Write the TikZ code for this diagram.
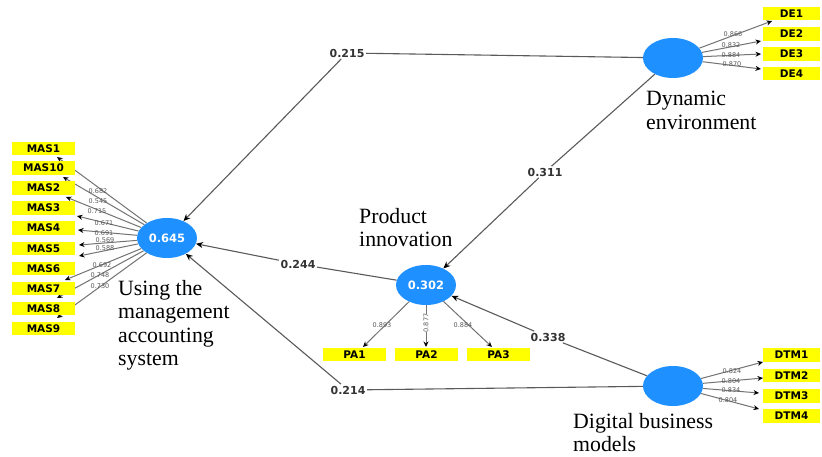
\documentclass[tikz,border=0pt]{standalone}
\usepackage{fontspec}
\setmainfont{Liberation Serif}
\newfontfamily\lblfont{DejaVu Sans}
\usetikzlibrary{arrows.meta,shapes.geometric}
\definecolor{lvblue}{RGB}{30,144,255}
\definecolor{indyel}{RGB}{255,255,0}
\definecolor{pathgray}{RGB}{90,90,90}
\definecolor{loadgray}{RGB}{115,115,115}
\begin{document}
\begin{tikzpicture}[x=1pt,y=-1pt,
 lv/.style={ellipse, fill=lvblue, minimum width=60pt, minimum height=40pt, inner sep=0pt, text=white, font=\lblfont\bfseries\fontsize{11.5}{12}\selectfont},
 ind/.style={fill=indyel, minimum width=63pt, minimum height=13.5pt, inner sep=0pt, font=\lblfont\bfseries\fontsize{10.5}{11}\selectfont},
 coef/.style={fill=white, inner sep=1.5pt, font=\lblfont\bfseries\fontsize{11}{12}\selectfont, text=black!80},
 load/.style={inner sep=0pt, font=\lblfont\fontsize{6.5}{7}\selectfont, text=black!65},
 pathln/.style={draw=pathgray, line width=1.1pt, -{Stealth[length=7pt,width=6pt,color=black]}},
 loadln/.style={draw=loadgray, line width=1pt, -{Stealth[length=5.5pt,width=5pt,color=black]}},
 lvtitle/.style={font=\fontsize{21.8}{23.5}\selectfont, align=left, anchor=north west, inner sep=0pt}
]
\useasboundingbox (0,0) rectangle (822,457);
\fill[white] (0,0) rectangle (822,457);

% latent variables
\node[lv] (MAS) at (167,238) {0.645};
\node[lv] (PI) at (426,285) {0.302};
\node[lv] (DE) at (673,58) {};
\node[lv] (DTM) at (673,386) {};

% titles
\node[lvtitle] (tDE) at (646,91) {Dynamic\\environment};
\node[lvtitle] (tPI) at (359,208) {Product\\innovation};
\node[lvtitle] (tMAS) at (118,280) {Using the\\management\\accounting\\system};
\node[lvtitle] (tDTM) at (573,413) {Digital business\\models};

% path coefficients
\node[coef] (c215) at (347,53) {0.215};
\node[coef] (c311) at (545,172) {0.311};
\node[coef] (c244) at (298,264) {0.244};
\node[coef] (c338) at (548,337) {0.338};
\node[coef] (c214) at (348,390) {0.214};

\draw[pathln] (DE) -- (c215) -- (MAS);
\draw[pathln] (DE) -- (c311) -- (PI);
\draw[pathln] (PI) -- (c244) -- (MAS);
\draw[pathln] (DTM) -- (c338) -- (PI);
\draw[pathln] (DTM) -- (c214) -- (MAS);

% arrow ends of the loadings
\coordinate (m1) at (57,157);
\coordinate (m10) at (63,177);
\coordinate (m2) at (66,197);
\coordinate (m3) at (77,216);
\coordinate (m4) at (78,230);
\coordinate (m5) at (79,245);
\coordinate (m6) at (79,256);
\coordinate (m7) at (65,280);
\coordinate (m8) at (57,298);
\coordinate (m9) at (57,318);
\foreach \t in {m1,m10,m2,m3,m4,m5,m6,m7,m8,m9} \draw[loadln] (MAS) -- (\t);

\coordinate (d1) at (772,21);
\coordinate (d2) at (761,41);
\coordinate (d3) at (761,54);
\coordinate (d4) at (761,69);
\foreach \t in {d1,d2,d3,d4} \draw[loadln] (DE) -- (\t);

\coordinate (g1) at (763,362);
\coordinate (g2) at (763,378);
\coordinate (g3) at (759,393);
\coordinate (g4) at (759,409);
\foreach \t in {g1,g2,g3,g4} \draw[loadln] (DTM) -- (\t);

\coordinate (p1) at (363,347);
\coordinate (p2) at (426,347);
\coordinate (p3) at (492,347);
\foreach \t in {p1,p2,p3} \draw[loadln] (PI) -- (\t);

% loading values
\node[load] at (98,191) {0.682};
\node[load] at (98,201) {0.545};
\node[load] at (97,211) {0.715};
\node[load] at (104,223) {0.671};
\node[load] at (104,233) {0.691};
\node[load] at (105,240) {0.569};
\node[load] at (105,248) {0.588};
\node[load] at (102,265) {0.692};
\node[load] at (100,275) {0.748};
\node[load] at (100,286) {0.730};

\node[load] at (733,34) {0.866};
\node[load] at (731,45) {0.832};
\node[load] at (731,55) {0.884};
\node[load] at (732,64) {0.870};

\node[load] at (732,371) {0.824};
\node[load] at (731,381) {0.804};
\node[load] at (731,390) {0.834};
\node[load] at (728,400) {0.804};

\node[load] at (382,325) {0.893};
\node[load, rotate=90, fill=white] at (426,323) {0.877};
\node[load] at (463,325) {0.884};

% indicators
\node[ind] (MAS1) at (43.5,148.5) {MAS1};
\node[ind] (MAS10) at (43.5,168) {MAS10};
\node[ind] (MAS2) at (43.5,188) {MAS2};
\node[ind] (MAS3) at (43.5,208) {MAS3};
\node[ind] (MAS4) at (43.5,228) {MAS4};
\node[ind] (MAS5) at (43.5,248.5) {MAS5};
\node[ind] (MAS6) at (43.5,268.5) {MAS6};
\node[ind] (MAS7) at (43.5,288.5) {MAS7};
\node[ind] (MAS8) at (43.5,308.5) {MAS8};
\node[ind] (MAS9) at (43.5,328.5) {MAS9};

\node[ind, minimum width=57pt] (DE1) at (791.5,13.5) {DE1};
\node[ind, minimum width=57pt] (DE2) at (791.5,34) {DE2};
\node[ind, minimum width=57pt] (DE3) at (791.5,54) {DE3};
\node[ind, minimum width=57pt] (DE4) at (791.5,73.5) {DE4};

\node[ind, minimum width=57pt] (DTM1) at (791.5,355) {DTM1};
\node[ind, minimum width=57pt] (DTM2) at (791.5,375.5) {DTM2};
\node[ind, minimum width=57pt] (DTM3) at (791.5,396) {DTM3};
\node[ind, minimum width=57pt] (DTM4) at (791.5,416) {DTM4};

\node[ind] (PA1) at (354.5,354.5) {PA1};
\node[ind] (PA2) at (426.5,354.5) {PA2};
\node[ind] (PA3) at (498.5,354.5) {PA3};
\end{tikzpicture}
\end{document}
